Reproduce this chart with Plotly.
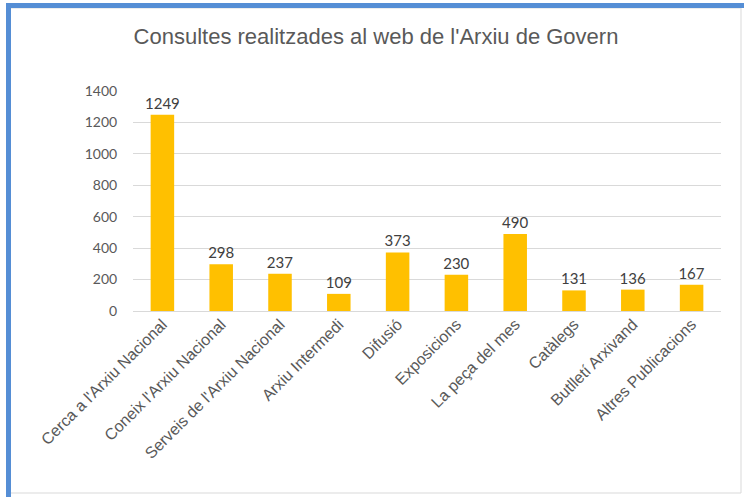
import plotly.graph_objects as go

categories = ["Cerca a l'Arxiu Nacional", "Coneix l'Arxiu Nacional", "Serveis de l'Arxiu Nacional",
              "Arxiu Intermedi", "Difusió", "Exposicions", "La peça del mes", "Catàlegs",
              "Butlletí Arxivand", "Altres Publicacions"]
values = [1249, 298, 237, 109, 373, 230, 490, 131, 136, 167]
y_ticks = [0, 200, 400, 600, 800, 1000, 1200, 1400]

W, H = 744, 497
L, R, T, B = 133, 23, 91, 186
PW, PH = W - L - R, H - T - B

def px(x):
    return (x - L) / PW

def py(y):
    return (H - B - y) / PH

fig = go.Figure(go.Bar(
    x=categories, y=values,
    marker=dict(color="#FFC000", line=dict(width=0)),
    text=[str(v) for v in values], textposition="outside", constraintext="none",
    textfont=dict(family="Lato, Open Sans, sans-serif", size=15, color="#404040"),
    cliponaxis=False, width=0.4, hoverinfo="x+y",
))

shapes = [
    dict(type="rect", xref="paper", yref="paper", x0=px(8), x1=px(741), y0=py(493), y1=py(8),
         line=dict(color="#D9D9D9", width=1), fillcolor="rgba(0,0,0,0)", layer="below"),
    dict(type="rect", xref="paper", yref="paper", x0=px(6), x1=px(744), y0=py(8), y1=py(3),
         line=dict(width=0), fillcolor="#558ED5"),
    dict(type="rect", xref="paper", yref="paper", x0=px(6), x1=px(11), y0=py(497), y1=py(3),
         line=dict(width=0), fillcolor="#558ED5"),
]

fig.update_layout(
    width=W, height=H,
    margin=dict(l=L, r=R, t=T, b=B, autoexpand=False),
    paper_bgcolor="white", plot_bgcolor="white",
    title=dict(text="Consultes realitzades al web de l'Arxiu de Govern",
               xref="container", x=376 / W, xanchor="center", y=1 - 36 / H, yanchor="middle",
               font=dict(family="Liberation Sans, Arial, sans-serif", size=22, color="#595959")),
    xaxis=dict(tickangle=-45, showgrid=False, showline=False, ticks="",
               tickfont=dict(family="Liberation Sans, Arial, sans-serif", size=16, color="#595959")),
    yaxis=dict(range=[0, 1400], tickvals=y_ticks, showgrid=True, gridcolor="#D9D9D9",
               zeroline=True, zerolinecolor="#D9D9D9", zerolinewidth=1,
               tickfont=dict(family="Lato, Open Sans, sans-serif", size=14, color="#595959"),
               ticks="outside", ticklen=12, tickcolor="rgba(0,0,0,0)"),
    shapes=shapes,
    showlegend=False,
)

fig.write_html("out.html", config={"displayModeBar": False},
               post_script="document.body.style.margin='0';")
